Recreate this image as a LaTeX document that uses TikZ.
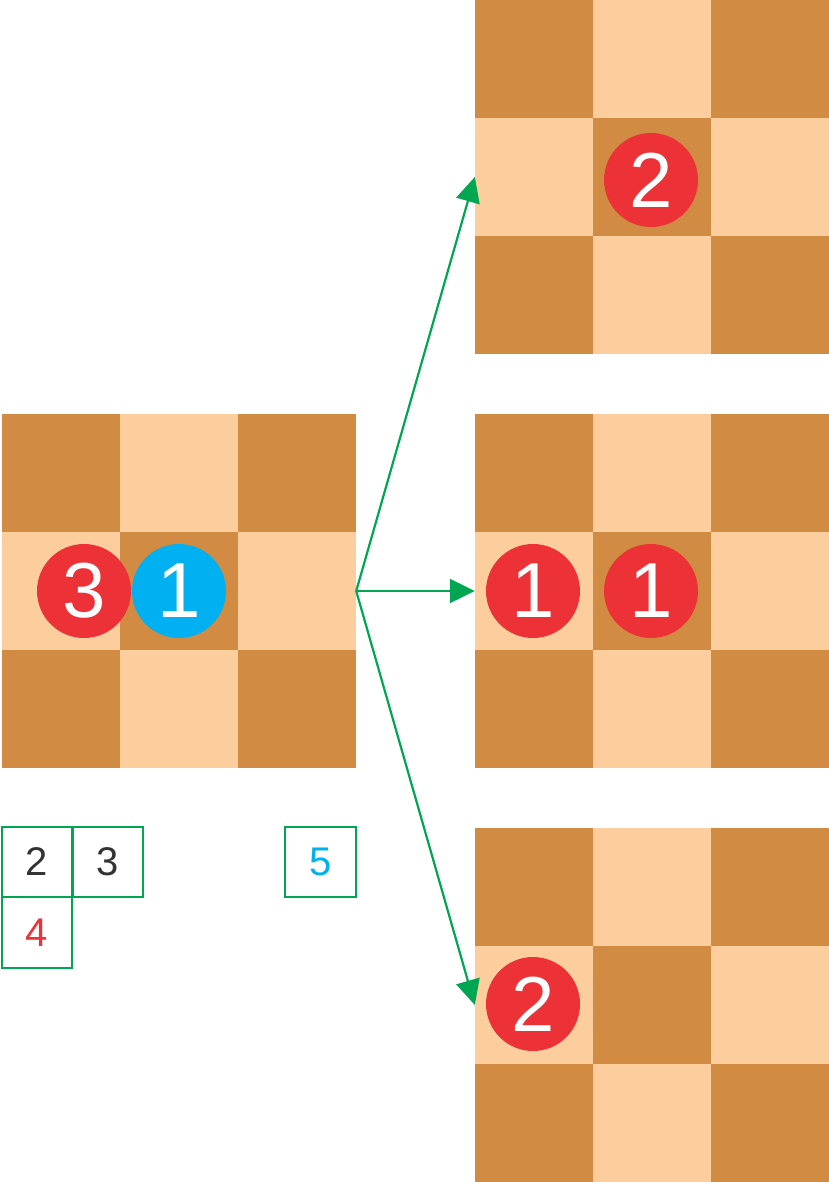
\documentclass[tikz,border=0pt]{standalone}
\usepackage{fontspec}
\setmainfont{Liberation Sans}
\usetikzlibrary{arrows.meta}
\definecolor{darksq}{RGB}{210,139,66}
\definecolor{lightsq}{RGB}{252,205,157}
\definecolor{pinred}{RGB}{237,50,55}
\definecolor{pinblue}{RGB}{0,176,240}
\definecolor{linegreen}{RGB}{0,166,81}
\definecolor{textgray}{RGB}{51,51,51}
\begin{document}
\begin{tikzpicture}[x=1pt,y=-1pt,
  boardbox/.style={rectangle,minimum size=354pt,inner sep=0pt},
  pin/.style={circle,minimum size=94pt,inner sep=0pt,text=white,font=\fontsize{78}{78}\selectfont},
  redpin/.style={pin,fill=pinred},
  bluepin/.style={pin,fill=pinblue},
  cellbox/.style={rectangle,draw=linegreen,line width=2.2pt,minimum size=70.5pt,inner sep=0pt,font=\fontsize{40}{40}\selectfont},
  conn/.style={draw=linegreen,line width=2.2pt,-{Triangle[length=25pt,width=24pt]}}]
\useasboundingbox (0,0) rectangle (829,1182);
\newcommand\drawboard[3]{%
  \foreach \i in {0,1,2}{\foreach \j in {0,1,2}{%
    \pgfmathtruncatemacro\myparity{mod(\i+\j,2)}%
    \ifnum\myparity=0 \def\cc{darksq}\else\def\cc{lightsq}\fi
    \fill[\cc] (#2+\i*118,#3+\j*118) rectangle ++(118,118);
  }}
  \node[boardbox] (#1) at (#2+177,#3+177) {};
}
\drawboard{left}{2}{414}
\drawboard{tr}{475}{0}
\drawboard{mr}{475}{414}
\drawboard{br}{475}{828}
% pins
\node[redpin] (p3) at (84,591) {3};
\node[bluepin] (p1) at (179,591) {1};
\node[redpin] (t2) at (651,180) {2};
\node[redpin] (m1a) at (533,591) {1};
\node[redpin] (m1b) at (651,591) {1};
\node[redpin] (b2) at (533,1004) {2};
% small boxes
\node[cellbox,text=textgray] (c2) at (37,862) {2};
\node[cellbox,text=textgray] (c3) at (108,862) {3};
\node[cellbox,text=pinred] (c4) at (37,932.5) {4};
\node[cellbox,text=pinblue] (c5) at (320.5,862) {5};
% connectors
\draw[conn] (left.east) -- (tr.west);
\draw[conn] (left.east) -- (mr.west);
\draw[conn] (left.east) -- (br.west);
\end{tikzpicture}
\end{document}
